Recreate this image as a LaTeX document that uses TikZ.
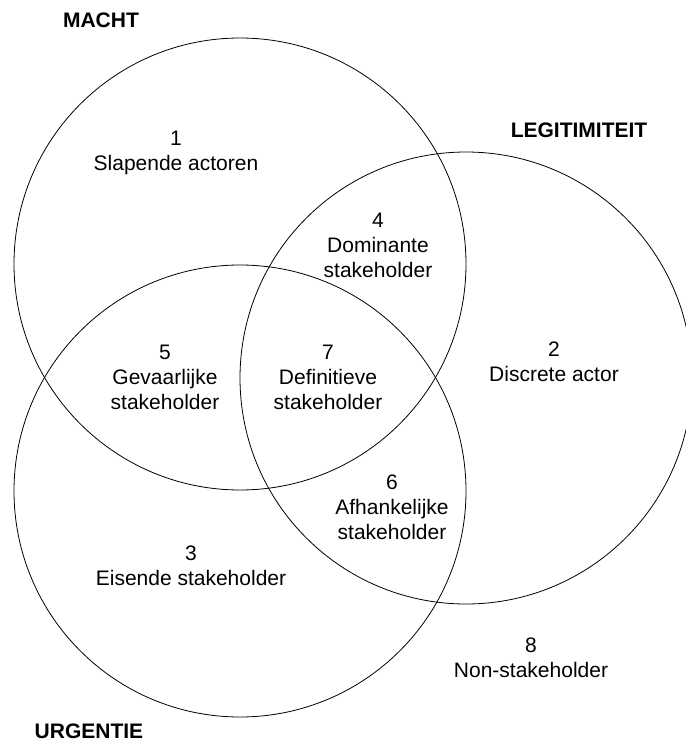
\documentclass[tikz,border=0pt]{standalone}
\usepackage{fontspec}
\setmainfont{Liberation Sans}
\begin{document}
\begin{tikzpicture}[x=0.75pt, y=-0.75pt,
  setcircle/.style={circle, draw=black, line width=0.6pt, inner sep=0pt, outer sep=0pt, minimum size=339pt},
  setname/.style={font=\fontsize{15.75pt}{18.4pt}\selectfont\bfseries, anchor=base, inner sep=0pt},
  regiontext/.style={font=\fontsize{15.75pt}{18.4pt}\selectfont, anchor=base, inner sep=0pt}]
\useasboundingbox (0,0) rectangle (685,742);

% the three attribute sets
\node[setcircle] (macht) at (240,264) {};
\node[setcircle] (legit) at (466,378) {};
\node[setcircle] (urg)   at (240,491) {};

% set names
\node[setname] (lmacht) at (101,28) {MACHT};
\node[setname] (llegit) at (579,137) {LEGITIMITEIT};
\node[setname] (lurg)   at (89,738.5) {URGENTIE};

% 1: power only
\node[regiontext] (r1a) at (176,145) {1};
\node[regiontext] (r1b) at (176,170) {Slapende actoren};

% 2: legitimacy only
\node[regiontext] (r2a) at (554,356) {2};
\node[regiontext] (r2b) at (554,381) {Discrete actor};

% 3: urgency only
\node[regiontext] (r3a) at (191,560) {3};
\node[regiontext] (r3b) at (191,585) {Eisende stakeholder};

% 4: power + legitimacy
\node[regiontext] (r4a) at (378,227) {4};
\node[regiontext] (r4b) at (378,252) {Dominante};
\node[regiontext] (r4c) at (378,277) {stakeholder};

% 5: power + urgency
\node[regiontext] (r5a) at (165,359) {5};
\node[regiontext] (r5b) at (165,384) {Gevaarlijke};
\node[regiontext] (r5c) at (165,409) {stakeholder};

% 6: legitimacy + urgency
\node[regiontext] (r6a) at (392,489) {6};
\node[regiontext] (r6b) at (392,514) {Afhankelijke};
\node[regiontext] (r6c) at (392,539) {stakeholder};

% 7: all three
\node[regiontext] (r7a) at (328,359) {7};
\node[regiontext] (r7b) at (328,384) {Definitieve};
\node[regiontext] (r7c) at (328,409) {stakeholder};

% 8: none
\node[regiontext] (r8a) at (531,652) {8};
\node[regiontext] (r8b) at (531,677) {Non-stakeholder};
\end{tikzpicture}
\end{document}
